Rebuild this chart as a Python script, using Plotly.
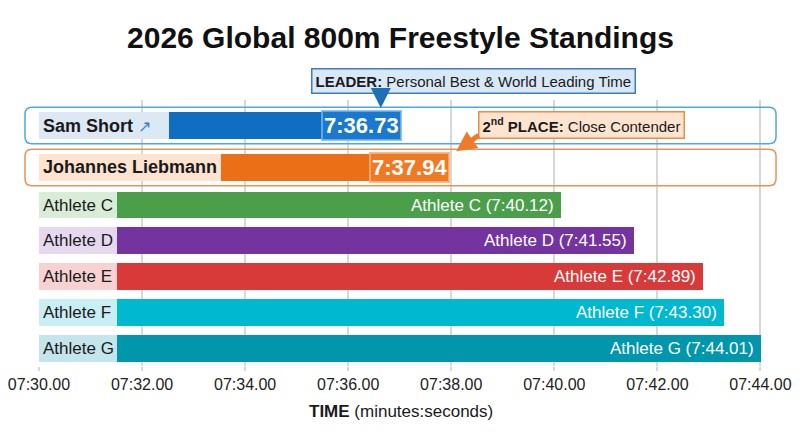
import plotly.graph_objects as go

# ---------------- data ----------------
athletes = ["Sam Short", "Johannes Liebmann", "Athlete C", "Athlete D",
            "Athlete E", "Athlete F", "Athlete G"]
times = ["7:36.73", "7:37.94", "7:40.12", "7:41.55", "7:42.89", "7:43.30", "7:44.01"]
tick_labels = ["07:30.00", "07:32.00", "07:34.00", "07:36.00",
               "07:38.00", "07:40.00", "07:42.00", "07:44.00"]
leader_note = ("LEADER:", "Personal Best & World Leading Time")
second_note = ("2<sup>nd</sup> PLACE:", "Close Contender")


def to_sec(s):
    m, sec = s.split(":")
    return int(m) * 60 + float(sec)


secs = [to_sec(t) for t in times]
tick_vals = [to_sec(t) for t in tick_labels]
x0, x1 = tick_vals[0], tick_vals[-1]

# ---------------- style ----------------
main_colors = ["#0f6ec2", "#ea6f17", "#4b9f4b", "#7434a0", "#d83a3a", "#00b8d0", "#0097ad"]
tint_colors = ["#dce9f5", "#fde3d0", "#d8ecd8", "#e6d9ef", "#f8d2d2", "#c9eef4", "#c3e5eb"]
label_panel = [2.52, 3.54, 1.52, 1.52, 1.52, 1.52, 1.52]   # seconds of light label panel
row_gaps = [0, 1.17, 1.05, 1.0, 1.0, 1.0, 1.0]
ypos = []
acc = 0
for g in row_gaps:
    acc += g
    ypos.append(acc)
BAR_W = 0.75
FONT = "Liberation Sans, Arial, sans-serif"
DARK = "#1a1a1a"
GRID = "#d7d7d7"
PLOT_TOP, PLOT_BOT = 100, 366


def paper_y(px):
    return (PLOT_BOT - px) / (PLOT_BOT - PLOT_TOP)


fig = go.Figure()
fig.add_trace(go.Bar(
    orientation="h", y=ypos, x=label_panel, base=[x0] * len(ypos),
    width=BAR_W, marker=dict(color=tint_colors, line=dict(width=0)),
    hoverinfo="skip", showlegend=False))
fig.add_trace(go.Bar(
    orientation="h", y=ypos,
    x=[s - (x0 + w) for s, w in zip(secs, label_panel)],
    base=[x0 + w for w in label_panel],
    width=BAR_W, marker=dict(color=main_colors, line=dict(width=0)),
    hovertext=[f"{a}: {t}" for a, t in zip(athletes, times)], hoverinfo="text",
    showlegend=False))

ann = []
# row labels
for i, (a, y) in enumerate(zip(athletes, ypos)):
    if i == 0:
        txt = f"<b>{a}</b> <span style='color:#2c7fc9;font-size:16px'>↗</span>"
        f = dict(size=18, color=DARK, family=FONT)
    elif i == 1:
        txt = f"<b>{a}</b>"
        f = dict(size=18, color=DARK, family=FONT)
    else:
        txt = a
        f = dict(size=17, color=DARK, family=FONT)
    ann.append(dict(x=x0, y=y, xref="x", yref="y", text=txt, showarrow=False,
                    xanchor="left", yanchor="middle", xshift=2, font=f))

# inside-bar labels for the rest
for i in range(2, len(athletes)):
    ann.append(dict(x=secs[i], y=ypos[i], xref="x", yref="y",
                    text=f"{athletes[i]} ({times[i]})", showarrow=False,
                    xanchor="right", yanchor="middle", xshift=-5,
                    font=dict(size=17, color="white", family=FONT)))

# highlighted value labels
val_style = [("#1a79cf", "rgba(120,180,238,0.8)", 16),
             ("#ef7a26", "rgba(250,175,120,0.85)", 2)]
for i in range(2):
    bg, bc, xs = val_style[i]
    ann.append(dict(x=secs[i], y=ypos[i], xref="x", yref="y",
                    text=f"<b>{times[i]}</b>", showarrow=False,
                    xanchor="right", yanchor="middle", xshift=xs,
                    bgcolor=bg, bordercolor=bc, borderwidth=2, borderpad=1,
                    font=dict(size=22, color="white", family=FONT)))

# callout boxes
ann.append(dict(x=(473.5 - 39) / 723, y=paper_y(81), xref="paper", yref="paper",
                text=f"<b>{leader_note[0]}</b> {leader_note[1]}", showarrow=False,
                xanchor="center", yanchor="middle",
                bgcolor="#d9e8f6", bordercolor="#3f7fb8", borderwidth=1.5, borderpad=3,
                font=dict(size=15, color=DARK, family=FONT)))
ann.append(dict(x=secs[0], y=ypos[0] - 0.49, xref="x", yref="y", text="",
                showarrow=True, ax=0, ay=-16, xshift=-5,
                arrowhead=2, arrowsize=0.8, arrowwidth=5, arrowcolor="#1f6fb8"))
ann.append(dict(x=(581 - 39) / 723, y=paper_y(125), xref="paper", yref="paper",
                text=f"<b>{second_note[0]}</b> {second_note[1]}", showarrow=False,
                xanchor="center", yanchor="middle",
                bgcolor="#fde4d1", bordercolor="#ee8a43", borderwidth=1.5, borderpad=3,
                font=dict(size=15, color=DARK, family=FONT)))
ann.append(dict(x=secs[1], y=ypos[1] - 0.45, xref="x", yref="y", text="",
                showarrow=True, ax=24, ay=-17, xshift=8,
                arrowhead=2, arrowsize=0.8, arrowwidth=5, arrowcolor="#ee7a2a"))

# axis title
ann.append(dict(x=0.5, y=paper_y(411), xref="paper", yref="paper",
                text="<b>TIME</b> (minutes:seconds)", showarrow=False,
                xanchor="center", yanchor="middle",
                font=dict(size=17, color=DARK, family=FONT)))

# rounded outline boxes around the top two rows
PLOT_W, PX_PER_UNIT = 723, 35.83


def rounded(xa, xb, ya, yb, r=7):
    rx, ry = r / PLOT_W, r / PX_PER_UNIT
    return (f"M {xa + rx},{ya} L {xb - rx},{ya} Q {xb},{ya} {xb},{ya + ry} "
            f"L {xb},{yb - ry} Q {xb},{yb} {xb - rx},{yb} L {xa + rx},{yb} "
            f"Q {xa},{yb} {xa},{yb - ry} L {xa},{ya + ry} Q {xa},{ya} {xa + rx},{ya} Z")


shapes = []
for i, col in [(0, "#4eaad8"), (1, "#e4955a")]:
    shapes.append(dict(type="path", xref="paper", yref="y",
                       path=rounded(-0.0194, 1.0194, ypos[i] - 0.51, ypos[i] + 0.51),
                       line=dict(color=col, width=1.5), layer="above"))

fig.update_layout(
    template="none",
    width=800, height=447,
    margin=dict(l=39, r=38, t=PLOT_TOP, b=447 - PLOT_BOT, pad=0),
    paper_bgcolor="white", plot_bgcolor="white",
    barmode="overlay", showlegend=False,
    title=dict(text="<b>2026 Global 800m Freestyle Standings</b>",
               x=0.5, xanchor="center", xref="paper", y=1 - 37 / 447, yanchor="middle",
               font=dict(size=30, color="#111", family=FONT)),
    xaxis=dict(range=[x0, x1 + 0.03], tickmode="array", tickvals=tick_vals,
               ticktext=tick_labels,
               showgrid=True, gridcolor=GRID, gridwidth=1.5, zeroline=False,
               showline=False, ticks="outside", ticklen=4, tickcolor=GRID, tickwidth=1.5,
               automargin=False,
               tickfont=dict(size=16, color="#222", family=FONT)),
    yaxis=dict(range=[6.715, -0.712], showgrid=False, zeroline=False,
               showticklabels=False, showline=False, ticks="", automargin=False),
    annotations=ann, shapes=shapes, bargap=0,
)

fig.write_html("out.html", config={"displayModeBar": False},
               post_script="document.body.style.margin='0';")
